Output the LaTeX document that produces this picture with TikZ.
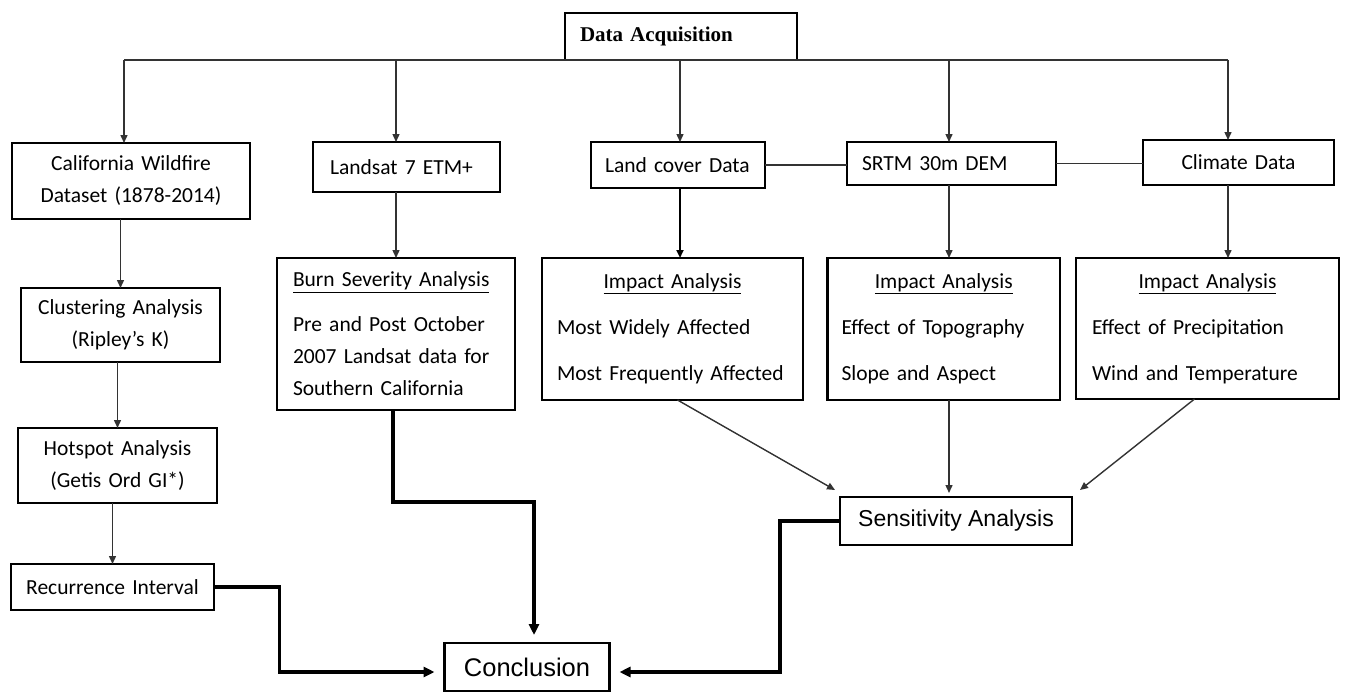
\documentclass[tikz,border=0pt]{standalone}
\usepackage{fontspec}
\setmainfont{Carlito}
\newfontfamily\serifb{Liberation Serif}
\newfontfamily\arialf{Liberation Sans}
\usetikzlibrary{arrows.meta,calc}
\begin{document}
\begin{tikzpicture}[x=1pt,y=-1pt,
  box/.style={draw=black, line width=2.6pt, fill=white, inner sep=0pt, outer sep=0pt,
    font=\fontsize{21.5}{32}\selectfont},
  conn/.style={draw=black!80, line width=1.4pt, -{Triangle[length=8pt,width=7pt]}},
  plainline/.style={draw=black!80, line width=1.4pt},
  heavy/.style={draw=black, line width=3.5pt, -{Triangle[length=11pt,width=10pt]}},
]
\useasboundingbox (0,0) rectangle (1346,693);
\fill[white] (0,0) rectangle (1346,693);

% top box
\node[box, minimum width=232pt, minimum height=47pt, text width=202pt, align=left,
  font={\serifb\bfseries\fontsize{21}{25}\selectfont}] (da) at (681,36.5) {Data Acquisition};

% first row
\node[box, minimum width=238pt, minimum height=76pt, text width=220pt, align=center] (cal) at (131,181)
  {California Wildfire\\Dataset (1878-2014)};
\node[box, minimum width=187pt, minimum height=50pt, text width=153pt, align=left] (lan) at (406.5,167)
  {Landsat 7 ETM+};
\node[box, minimum width=174pt, minimum height=46pt, text width=146pt, align=left] (lc) at (678,165)
  {Land cover Data};
\node[box, minimum width=209pt, minimum height=43pt, text width=179pt, align=left] (srtm) at (951.5,163.5)
  {SRTM 30m DEM};
\node[box, minimum width=191pt, minimum height=45pt, text width=170pt, align=center] (clim) at (1238.5,162.5)
  {Climate Data};

% left column
\node[box, line width=2.3pt, minimum width=199pt, minimum height=74pt, text width=185pt, align=center] (clu) at (120.5,325)
  {Clustering Analysis\\(Ripley's K)};
\node[box, line width=2.3pt, minimum width=199pt, minimum height=75pt, text width=185pt, align=center] (hot) at (117.5,465.5)
  {Hotspot Analysis\\(Getis Ord GI*)};
\node[box, line width=2.3pt, minimum width=203pt, minimum height=46pt, text width=190pt, align=center] (rec) at (112.5,587)
  {Recurrence Interval};

% second row
\node[box, minimum width=238pt, minimum height=152pt, text width=206pt, align=left] (burn) at (396,334)
  {\underline{Burn Severity Analysis}\\[13pt]Pre and Post October\\2007 Landsat data for\\Southern California};
\node[box, minimum width=261pt, minimum height=142pt, text width=231pt, align=left,
  font=\fontsize{21.5}{46}\selectfont] (imp1) at (672.5,329)
  {\makebox[\hsize][c]{\underline{Impact Analysis}}\\Most Widely Affected\\Most Frequently Affected};
\node[box, minimum width=232.5pt, minimum height=142pt, text width=204.5pt, align=left,
  font=\fontsize{21.5}{46}\selectfont] (imp2) at (943.75,329)
  {\makebox[\hsize][c]{\underline{Impact Analysis}}\\Effect of Topography\\Slope and Aspect};
\node[box, minimum width=263pt, minimum height=141pt, text width=231pt, align=left,
  font=\fontsize{21.5}{46}\selectfont] (imp3) at (1207.5,328.5)
  {\makebox[\hsize][c]{\underline{Impact Analysis}}\\Effect of Precipitation\\Wind and Temperature};

% sensitivity and conclusion
\node[box, line width=2.2pt, minimum width=232pt, minimum height=48pt, align=center,
  font={\arialf\fontsize{23}{27}\selectfont}] (sens) at (956,521) {Sensitivity Analysis};
\node[box, line width=2.2pt, minimum width=165pt, minimum height=48pt, align=center,
  font={\arialf\fontsize{25.5}{30}\selectfont}] (conc) at (527,667) {Conclusion};

% arrow columns
\coordinate (xa) at (124,0);
\coordinate (xb) at (396,0);
\coordinate (xc) at (680,0);
\coordinate (xd) at (949,0);
\coordinate (xe) at (1228,0);

\draw[plainline] (da.south -| xa) -- (da.south -| xe);
\draw[conn] (da.south -| xa) -- (cal.north -| xa);
\draw[conn] (da.south -| xb) -- (lan.north -| xb);
\draw[conn] (da.south -| xc) -- (lc.north -| xc);
\draw[conn] (da.south -| xd) -- (srtm.north -| xd);
\draw[conn] (da.south -| xe) -- (clim.north -| xe);

\draw[plainline] (lc.east) -- (lc.east -| srtm.west);
\draw[plainline] (srtm.east) -- (srtm.east -| clim.west);

\draw[conn] (cal.south -| clu.north) -- (clu.north);
\draw[conn] (clu.south -| hot.north) -- (hot.north);
\draw[conn] (hot.south -| rec.north) -- (rec.north);

\draw[conn] (lan.south -| xb) -- (burn.north -| xb);
\draw[conn, draw=black, line width=2.4pt] (lc.south -| xc) -- (imp1.north -| xc);
\draw[conn] (srtm.south -| xd) -- (imp2.north -| xd);
\draw[conn] (clim.south -| xe) -- (imp3.north -| xe);

\draw[conn] ($(imp1.south)+(5,0)$) -- ($(sens.north west)+(-5,-7)$);
\draw[conn] (imp2.south -| xd) -- ($(sens.north -| xd)+(0,-4)$);
\draw[conn] ($(imp3.south)+(-13,0)$) -- ($(sens.north east)+(8,-7)$);

\draw[heavy] (rec.east) -- ++(65.5,0) |- ($(conc.west)+(-10,5)$);
\draw[heavy] ($(burn.south)+(-3,0)$) -- ++(0,92) -| ($(conc.north)+(7,-8)$);
\draw[heavy] (sens.west) -- ++(-60,0) |- ($(conc.east)+(10,5)$);
\end{tikzpicture}
\end{document}
